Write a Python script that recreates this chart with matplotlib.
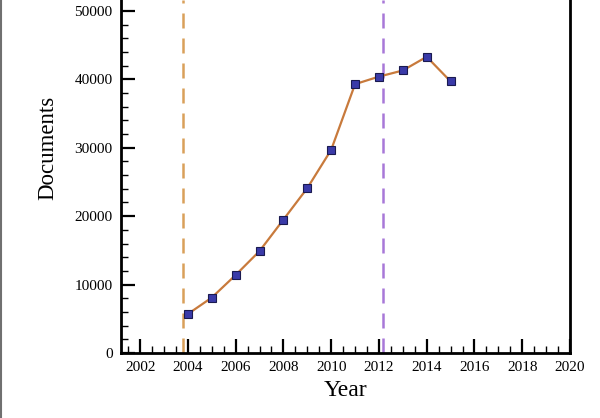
import matplotlib
matplotlib.use("Agg")
import matplotlib.pyplot as plt
from matplotlib.lines import Line2D
from matplotlib.ticker import MultipleLocator

# data
years = [2004, 2005, 2006, 2007, 2008, 2009, 2010, 2011, 2012, 2013, 2014, 2015]
documents = [5700, 8100, 11400, 14900, 19500, 24100, 29700, 39300, 40400, 41300, 43300, 39700]
marker_lines = [2003.8, 2012.17]
xticks = [2002, 2004, 2006, 2008, 2010, 2012, 2014, 2016, 2018, 2020]
yticks = [0, 10000, 20000, 30000, 40000, 50000]

plt.rcParams["font.family"] = ["Liberation Serif", "DejaVu Serif"]

fig = plt.figure(figsize=(6.0, 4.18), dpi=100)
ax = fig.add_axes([0.2017, 0.1555, 0.7483, 0.8445])

ax.axvline(marker_lines[0], color="#d9a05a", linestyle=(0, (6, 4)), linewidth=1.8, zorder=1)
ax.axvline(marker_lines[1], color="#a878d8", linestyle=(0, (6, 4)), linewidth=1.8, zorder=1)

ax.plot(years, documents, color="#c87a3c", linewidth=1.6, marker="s", markersize=5.5,
        markerfacecolor="#3a3aa8", markeredgecolor="#1a1a50", markeredgewidth=0.8, zorder=3)

ax.set_xlim(2001.2, 2020)
ax.set_ylim(0, 51600)
ax.set_xticks(xticks)
ax.set_yticks(yticks)
ax.xaxis.set_minor_locator(MultipleLocator(0.5))
ax.yaxis.set_minor_locator(MultipleLocator(2000))

ax.tick_params(which="major", direction="in", length=10, width=1.6, labelsize=11, colors="black")
ax.tick_params(which="minor", direction="in", length=5, width=1.0)
ax.tick_params(axis="x", pad=6)
ax.tick_params(axis="y", pad=6)

for side in ["left", "bottom", "right"]:
    ax.spines[side].set_linewidth(2)
ax.spines["top"].set_visible(False)

ax.set_xlabel("Year", fontsize=17, labelpad=4)
ax.set_ylabel("Documents", fontsize=16.5)
ax.yaxis.set_label_coords(-0.14, 0.58)

# thin grey border at the left edge, as in the screenshot
fig.add_artist(Line2D([0.002, 0.002], [0, 1], transform=fig.transFigure, color="#707070", linewidth=1.5))

fig.savefig("out.png", dpi=100)
